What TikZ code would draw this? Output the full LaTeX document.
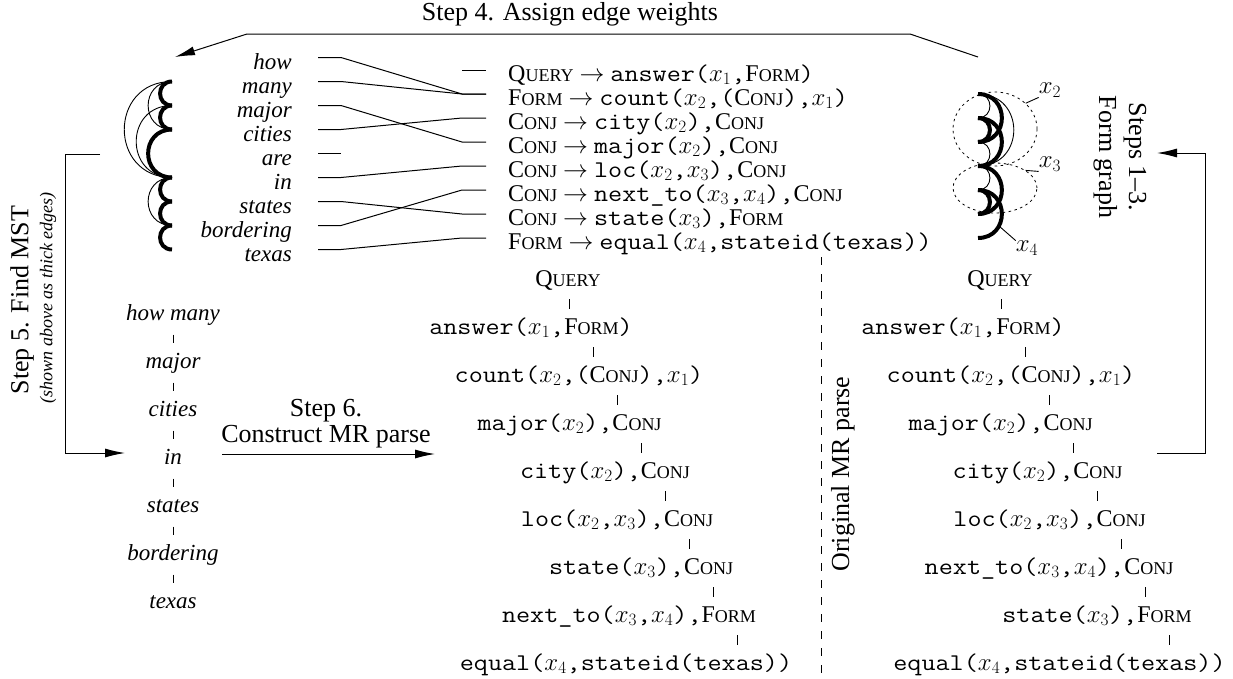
\documentclass[tikz,border=0pt]{standalone}
\usepackage[no-math]{fontspec}
\setmainfont{Liberation Serif}
\setmonofont{Latin Modern Mono}[FakeStretch=1.14]
\usetikzlibrary{arrows.meta,shapes.geometric}
\newcommand\mySC[2]{#1{\fontsize{18}{20}\selectfont #2}}
\newcommand\mrQ{\mySC{Q}{UERY}}
\newcommand\mrF{\mySC{F}{ORM}}
\newcommand\mrC{\mySC{C}{ONJ}}
\newcommand\tw[1]{\texttt{#1}}
\tikzset{
 word/.style={inner sep=0pt, anchor=east, font=\fontsize{23}{26}\selectfont\itshape, text height=16pt, text depth=5pt},
 rulen/.style={inner sep=0pt, anchor=west, font=\fontsize{24}{28}\selectfont, text height=16pt, text depth=4pt},
 trn/.style={inner sep=0pt, font=\fontsize{24}{28}\selectfont, text height=17pt, text depth=5pt},
 wtree/.style={inner sep=0pt, font=\fontsize{23}{26}\selectfont\itshape, text height=16pt, text depth=5pt},
 lab/.style={inner sep=0pt, font=\fontsize{26}{28}\selectfont},
 conn/.style={line width=1pt},
 thk/.style={line width=4pt},
 thn/.style={line width=0.9pt},
 arr/.style={line width=1pt, -{Latex[length=20pt,width=9pt]}},
 tick/.style={line width=1pt, shorten >=8pt, shorten <=8pt},
 wtick/.style={line width=1pt, shorten >=9pt, shorten <=9pt},
 xlab/.style={inner sep=0pt, font=\fontsize{24}{28}\selectfont},
 dots/.style={line width=0.8pt, dash pattern=on 2.5pt off 3.5pt},
}
\begin{document}
\begin{tikzpicture}[x=1pt,y=-1pt]
\path[use as bounding box] (0,0) rectangle (1233,678);

% ---- words of the sentence
\foreach \k/\t in {1/how,2/many,3/major,4/cities,5/are,6/in,7/states,8/bordering,9/texas}{
  \node[word] (w\k) at (292,{64+24*(\k-1)}) {\t};
  \coordinate (wl\k) at (318,{57.5+24*(\k-1)});
  \coordinate (wr\k) at (341,{57.5+24*(\k-1)});
}
% ---- rules
\node[rulen] (r1) at (508,75)  {\mrQ\ $\rightarrow$ \tw{answer(}$x_1$\tw{,}\mrF\tw{)}};
\node[rulen] (r2) at (508,99)  {\mrF\ $\rightarrow$ \tw{count(}$x_2$\tw{,(}\mrC\tw{),}$x_1$\tw{)}};
\node[rulen] (r3) at (508,123) {\mrC\ $\rightarrow$ \tw{city(}$x_2$\tw{),}\mrC};
\node[rulen] (r4) at (508,147) {\mrC\ $\rightarrow$ \tw{major(}$x_2$\tw{),}\mrC};
\node[rulen] (r5) at (508,171) {\mrC\ $\rightarrow$ \tw{loc(}$x_2$\tw{,}$x_3$\tw{),}\mrC};
\node[rulen] (r6) at (508,195) {\mrC\ $\rightarrow$ \tw{next\_to(}$x_3$\tw{,}$x_4$\tw{),}\mrC};
\node[rulen] (r7) at (508,219) {\mrC\ $\rightarrow$ \tw{state(}$x_3$\tw{),}\mrF};
\node[rulen] (r8) at (508,243) {\mrF\ $\rightarrow$ \tw{equal(}$x_4$\tw{,stateid(texas))}};
\foreach \k in {1,...,8}{
  \coordinate (rl\k) at (462,{70+24*(\k-1)});
  \coordinate (rr\k) at (486,{70+24*(\k-1)});
}
% ---- alignment lines
\foreach \w/\r in {1/2,2/2,3/4,4/3,6/5,7/7,8/6,9/8}
  \draw[conn] (wl\w) -- (wr\w) -- (rl\r) -- (rr\r);
\draw[conn] (wl5) -- (wr5);
\draw[conn] (rl1) -- (rr1);

% ---- left graph (words)
\coordinate (Lmany) at (172,81.5);
\coordinate (Lmajor) at (172,105.5);
\coordinate (Lcities) at (172,129.5);
\coordinate (Lin) at (172,177.5);
\coordinate (Lstates) at (172,201.5);
\coordinate (Lbord) at (172,225.5);
\coordinate (Ltexas) at (172,249.5);
\foreach \a/\b in {Lmany/Lcities,Lmany/Lin,Lmajor/Lin,Lin/Lbord}
  \draw[thn] (\a) to[out=180,in=180,looseness=1.7] (\b);
\foreach \a/\b in {Lmany/Lmajor,Lmajor/Lcities,Lcities/Lin,Lin/Lstates,Lstates/Lbord,Lbord/Ltexas}
  \draw[thk] (\a) to[out=180,in=180,looseness=1.7] (\b);

% ---- right graph (rules)
\foreach \k in {2,...,8}
  \coordinate (R\k) at (978,{94+24*(\k-2)});
\foreach \a/\b in {R2/R3,R2/R5,R4/R5,R5/R6}
  \draw[thn] (\a) to[out=0,in=0,looseness=1.7] (\b);
\foreach \a/\b in {R2/R4,R3/R4,R3/R5,R5/R7,R6/R7,R6/R8}
  \draw[thk] (\a) to[out=0,in=0,looseness=1.7] (\b);
\node[draw,dots,ellipse,minimum width=84pt,minimum height=74pt,inner sep=0pt] (E1) at (995,129) {};
\node[draw,dots,ellipse,minimum width=84pt,minimum height=50pt,inner sep=0pt] (E2) at (995,188) {};
\node[xlab] (x2) at (1050,90) {$x_2$};
\node[xlab] (x3) at (1050,164) {$x_3$};
\node[xlab] (x4) at (1027,248) {$x_4$};
\coordinate (x4p) at (999,226);
\draw[thn] (E1.40) -- (x2.south west);
\draw[thn] (E2.30) -- (x3.south west);
\draw[thn] (x4p) -- (x4.north west);

% ---- labels
\node[lab] (s4) at (570,14) {Step 4. Assign edge weights};
\node[lab, rotate=-90, align=center, font=\fontsize{26}{30}\selectfont] (s13) at (1120,157) {Steps 1–3.\\Form graph};
\node[lab, rotate=90] (s5) at (22,300) {Step 5. Find MST};
\node[inner sep=0pt, rotate=90, font=\fontsize{18}{20}\selectfont\itshape] (s5b) at (48,298) {(shown above as thick edges)};
\node[lab, align=center, font=\fontsize{26}{26}\selectfont] (s6) at (326,424) {Step 6.\\Construct MR parse};
\node[lab, rotate=90] (omr) at (843,474) {Original MR parse};

% ---- arrows
\coordinate (ta) at (978,57);
\coordinate (tb) at (910,34);
\coordinate (tc) at (247,34);
\coordinate (td) at (175,57);
\draw[arr] (ta) -- (tb) -- (tc) -- (td);
\coordinate (la) at (100,154);
\coordinate (lb) at (65,154);
\coordinate (lc) at (65,453);
\coordinate (ld) at (125,453);
\draw[arr] (la) -- (lb) -- (lc) -- (ld);
\coordinate (ra) at (1157,453);
\coordinate (rb) at (1205,453);
\coordinate (rc) at (1205,153);
\coordinate (rd) at (1157,153);
\draw[arr] (ra) -- (rb) -- (rc) -- (rd);
\coordinate (ca) at (222,454);
\coordinate (cb) at (435,454);
\draw[arr] (ca) -- (cb);
\coordinate (dtop) at (821,257);
\coordinate (dbot) at (821,678);
\draw[line width=1pt, dash pattern=on 8pt off 9pt] (dtop) -- (dbot);

% ---- word tree
\foreach \k/\t/\y in {1/how many/315,2/major/363,3/cities/411,4/in/459,5/states/507,6/bordering/555,7/texas/603}
  \node[wtree] (t\k) at (173,\y) {\t};
\foreach \k [count=\j from 2] in {1,...,6}
  \draw[wtick] (t\k.south) -- (t\j.north);

% ---- constructed MR parse
\node[trn] (m0) at (568,280) {\mrQ};
\node[trn] (m1) at (531,328) {\tw{answer(}$x_1$\tw{,}\mrF\tw{)}};
\node[trn] (m2) at (579,376) {\tw{count(}$x_2$\tw{,(}\mrC\tw{),}$x_1$\tw{)}};
\node[trn] (m3) at (569.5,424) {\tw{major(}$x_2$\tw{),}\mrC};
\node[trn] (m4) at (605,472) {\tw{city(}$x_2$\tw{),}\mrC};
\node[trn] (m5) at (617,520) {\tw{loc(}$x_2$\tw{,}$x_3$\tw{),}\mrC};
\node[trn] (m6) at (641,568) {\tw{state(}$x_3$\tw{),}\mrC};
\node[trn] (m7) at (629,616) {\tw{next\_to(}$x_3$\tw{,}$x_4$\tw{),}\mrF};
\node[trn] (m8) at (626,664) {\tw{equal(}$x_4$\tw{,stateid(texas))}};
\foreach \k [count=\j] in {0,...,7}{
  \coordinate (mx\k) at ({569+24*\k},0);
  \draw[tick] (m\k.south -| mx\k) -- (m\j.north -| mx\k);
}

% ---- original MR parse
\node[trn] (o0) at (1000,280) {\mrQ};
\node[trn] (o1) at (963,328) {\tw{answer(}$x_1$\tw{,}\mrF\tw{)}};
\node[trn] (o2) at (1011,376) {\tw{count(}$x_2$\tw{,(}\mrC\tw{),}$x_1$\tw{)}};
\node[trn] (o3) at (1000.5,424) {\tw{major(}$x_2$\tw{),}\mrC};
\node[trn] (o4) at (1037.5,472) {\tw{city(}$x_2$\tw{),}\mrC};
\node[trn] (o5) at (1049.5,520) {\tw{loc(}$x_2$\tw{,}$x_3$\tw{),}\mrC};
\node[trn] (o6) at (1049,568) {\tw{next\_to(}$x_3$\tw{,}$x_4$\tw{),}\mrC};
\node[trn] (o7) at (1097,616) {\tw{state(}$x_3$\tw{),}\mrF};
\node[trn] (o8) at (1059.5,664) {\tw{equal(}$x_4$\tw{,stateid(texas))}};
\foreach \k [count=\j] in {0,...,7}{
  \coordinate (ox\k) at ({1001+24*\k},0);
  \draw[tick] (o\k.south -| ox\k) -- (o\j.north -| ox\k);
}
\end{tikzpicture}
\end{document}
